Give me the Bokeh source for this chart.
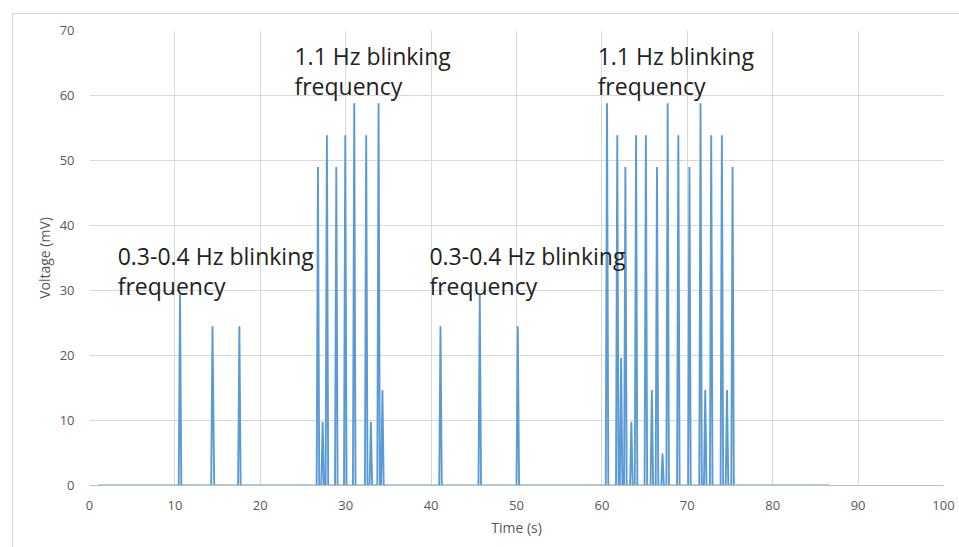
from bokeh.plotting import figure
from bokeh.models import Label, Range1d, FixedTicker
from bokeh.embed import file_html
from bokeh.resources import INLINE

# Recorded voltage trace (time in s, voltage in mV)
time_s = [
    1.0,
    10.45, 10.6, 10.75,
    14.25, 14.4, 14.6,
    17.4, 17.55, 17.7,
    26.6, 26.75, 26.9,
    27.15, 27.3, 27.45,
    27.65, 27.8, 27.95,
    28.75, 28.9, 29.05,
    29.8, 29.95, 30.1,
    30.85, 31.0, 31.15,
    32.25, 32.4, 32.55,
    32.8, 32.95, 33.1,
    33.7, 33.85, 34.0,
    34.15, 34.3, 34.45,
    40.95, 41.1, 41.25,
    45.55, 45.7, 45.85,
    50.0, 50.15, 50.3,
    60.45, 60.6, 60.75,
    61.65, 61.8, 61.95,
    62.1, 62.25, 62.4,
    62.6, 62.75, 62.9,
    63.3, 63.45, 63.6,
    63.85, 64.0, 64.15,
    65.0, 65.15, 65.3,
    65.7, 65.85, 66.0,
    66.3, 66.45, 66.6,
    66.95, 67.1, 67.25,
    67.55, 67.7, 67.85,
    68.8, 68.95, 69.1,
    70.1, 70.25, 70.4,
    71.4, 71.55, 71.7,
    71.95, 72.1, 72.25,
    72.65, 72.8, 72.95,
    73.9, 74.05, 74.2,
    74.5, 74.65, 74.8,
    75.15, 75.3, 75.45,
    86.6,
]
voltage_mv = [
    0,
    0, 29.4, 0,
    0, 24.5, 0,
    0, 24.5, 0,
    0, 49.0, 0,
    0, 9.8, 0,
    0, 53.9, 0,
    0, 49.0, 0,
    0, 53.9, 0,
    0, 58.8, 0,
    0, 53.9, 0,
    0, 9.8, 0,
    0, 58.8, 0,
    0, 14.7, 0,
    0, 24.5, 0,
    0, 29.4, 0,
    0, 24.5, 0,
    0, 58.8, 0,
    0, 53.9, 0,
    0, 19.6, 0,
    0, 49.0, 0,
    0, 9.8, 0,
    0, 53.9, 0,
    0, 53.9, 0,
    0, 14.7, 0,
    0, 49.0, 0,
    0, 4.9, 0,
    0, 58.8, 0,
    0, 53.9, 0,
    0, 49.0, 0,
    0, 58.8, 0,
    0, 14.7, 0,
    0, 53.9, 0,
    0, 53.9, 0,
    0, 14.7, 0,
    0, 49.0, 0,
    0,
]

x_ticks = [0, 10, 20, 30, 40, 50, 60, 70, 80, 90, 100]
y_ticks = [0, 10, 20, 30, 40, 50, 60, 70]

# Annotated stimulation phases: (text, time, voltage at top of text)
phase_texts = ["0.3-0.4 Hz blinking\nfrequency", "1.1 Hz blinking\nfrequency",
               "0.3-0.4 Hz blinking\nfrequency", "1.1 Hz blinking\nfrequency"]
phase_x = [3.3, 24.0, 39.8, 59.5]
phase_y = [37.7, 68.5, 37.7, 68.5]

GRID = "#d9d9d9"
TICK_TEXT = "#595959"
FONT = "Open Sans"

p = figure(
    width=946, height=533,
    frame_width=854, frame_height=455,
    min_border_left=76, min_border_right=16,
    min_border_top=16, min_border_bottom=62,
    x_range=Range1d(0, 100), y_range=Range1d(0, 70),
    output_backend="svg", toolbar_location=None,
    background_fill_color="white", border_fill_color="white",
)
p.styles = {"margin-left": "12px", "margin-top": "13px",
            "border-left": f"1px solid {GRID}", "border-top": f"1px solid {GRID}"}
p.outline_line_color = None

p.line(time_s, voltage_mv, line_color="#5b9bd5", line_width=1.9)

for ax, ticks in ((p.xaxis[0], x_ticks), (p.yaxis[0], y_ticks)):
    ax.ticker = FixedTicker(ticks=ticks)
    ax.major_tick_line_color = None
    ax.minor_tick_line_color = None
    ax.major_label_text_color = TICK_TEXT
    ax.major_label_text_font = FONT
    ax.major_label_text_font_size = "13px"
    ax.axis_label_text_color = TICK_TEXT
    ax.axis_label_text_font = FONT
    ax.axis_label_text_font_size = "14px"
    ax.axis_label_text_font_style = "normal"

p.xaxis.axis_label = "Time (s)"
p.yaxis.axis_label = "Voltage (mV)"
p.xaxis.axis_line_color = "#bfbfbf"
p.yaxis.axis_line_color = None
p.xaxis.major_label_standoff = 9
p.xaxis.axis_label_standoff = 5
p.yaxis.major_label_standoff = 9
p.yaxis.axis_label_standoff = 3

p.xgrid.grid_line_color = GRID
p.ygrid.grid_line_color = GRID
p.xgrid.ticker = FixedTicker(ticks=x_ticks)
p.ygrid.ticker = FixedTicker(ticks=y_ticks)

for txt, x, y in zip(phase_texts, phase_x, phase_y):
    p.add_layout(Label(x=x, y=y, text=txt, text_font=FONT, text_font_size="23px",
                       text_color="#222222", text_baseline="top", text_align="left",
                       text_line_height=0.93))

open("out.html", "w").write(file_html(p, INLINE))
